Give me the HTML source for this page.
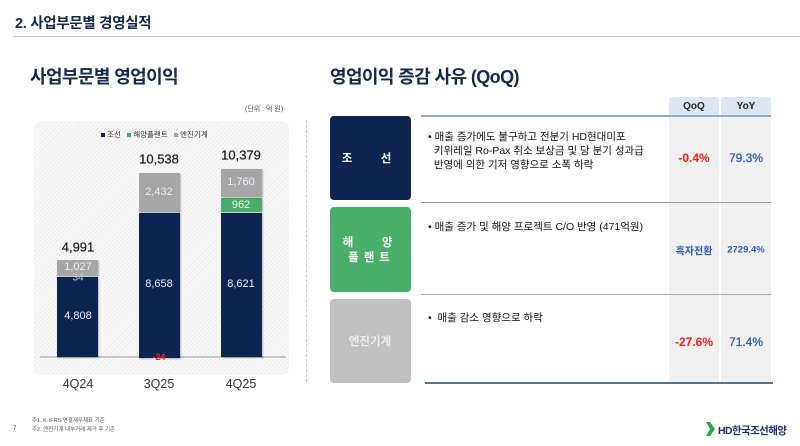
<!DOCTYPE html>
<html><head><meta charset="utf-8">
<style>
*{margin:0;padding:0;box-sizing:border-box}
body{width:800px;height:446px;background:#fff;position:relative;overflow:hidden;font-family:"Liberation Sans","Noto Sans CJK KR",sans-serif;color:#222}
.a{position:absolute;white-space:nowrap}
.t{font-weight:bold;color:#13284f}
.bar{position:absolute;box-shadow:1px 1px 1.5px rgba(0,0,0,.25)}
.nv{background:#0d2350}
.gr{background:#a6a6a6}
.gn{background:#48ad69}
.lbl{position:absolute;transform:translate(-50%,-50%);white-space:nowrap}
.in{font-size:11px;color:#eef0f4}
.tot{font-size:13px;color:#1a1a1a;-webkit-text-stroke:0.2px #1a1a1a}
.xl{font-size:12.5px;color:#333}
.box{position:absolute;left:330px;width:81px;border-radius:4px}
.bt{color:#fff;font-weight:bold;font-size:11.5px}
.desc{font-size:10.5px;color:#111;line-height:14px}
.v{font-size:12px;font-weight:bold}
.red{color:#ff1a1a}
.blu{color:#2e5aac}
</style></head><body>

<div class="a t" style="left:15px;top:12px;font-size:14.5px;letter-spacing:-0.3px">2. 사업부문별 경영실적</div>
<div class="a" style="left:14px;top:36px;width:786px;height:1px;background:#c8c8c8"></div>

<div class="a t" style="left:30px;top:63px;font-size:18px;letter-spacing:-0.6px">사업부문별 영업이익</div>
<div class="a t" style="left:330px;top:63px;font-size:18px;letter-spacing:-0.6px">영업이익 증감 사유 (QoQ)</div>

<div class="a" style="left:245px;top:104px;font-size:7px;color:#555">(단위 : 억 원)</div>

<!-- chart bg -->
<div class="a" style="left:34px;top:121px;width:255px;height:254px;border-radius:7px;background:repeating-linear-gradient(135deg,#f9f9f9 0px,#f9f9f9 2px,#ececec 2px,#ececec 3px)"></div>

<!-- legend -->
<div class="a" style="left:101px;top:129px;font-size:7.5px;color:#333">
<span style="display:inline-block;width:4px;height:4px;background:#0d2350;vertical-align:middle"></span> 조선&nbsp;&nbsp;
<span style="display:inline-block;width:4px;height:4px;background:#48ad69;vertical-align:middle"></span> 해양플랜트&nbsp;&nbsp;
<span style="display:inline-block;width:4px;height:4px;background:#a6a6a6;vertical-align:middle"></span> 엔진기계</div>

<!-- baseline -->
<div class="a" style="left:40px;top:356px;width:246px;height:2px;background:#c4c4c4"></div>

<!-- bar 1 -->
<div class="bar nv" style="left:57px;top:277px;width:41px;height:80px"></div>
<div class="bar gr" style="left:57px;top:260px;width:41px;height:16px"></div>
<!-- bar 2 -->
<div class="bar nv" style="left:139px;top:213px;width:41px;height:145px"></div>
<div class="bar gr" style="left:139px;top:173px;width:41px;height:39px"></div>
<!-- bar 3 -->
<div class="bar nv" style="left:221px;top:213px;width:41px;height:144px"></div>
<div class="bar gn" style="left:221px;top:198px;width:41px;height:14px"></div>
<div class="bar gr" style="left:221px;top:169px;width:41px;height:28px"></div>

<div class="lbl tot" style="left:78px;top:247px">4,991</div>
<div class="lbl tot" style="left:159px;top:159px">10,538</div>
<div class="lbl tot" style="left:241px;top:155px">10,379</div>

<div class="lbl in" style="left:78px;top:316px">4,808</div>
<div class="lbl in" style="left:78px;top:267px">1,027</div>
<div class="lbl in" style="left:78px;top:278px;font-size:10px;color:#c8ccd6">34</div>
<div class="lbl in" style="left:159px;top:284px">8,658</div>
<div class="lbl in" style="left:159px;top:192px">2,432</div>
<div class="lbl" style="left:159px;top:357px;font-size:9px;font-weight:bold;color:#ff2020">-24</div>
<div class="lbl in" style="left:241px;top:284px">8,621</div>
<div class="lbl in" style="left:241px;top:205px">962</div>
<div class="lbl in" style="left:241px;top:182px">1,760</div>

<div class="lbl xl" style="left:78px;top:384px">4Q24</div>
<div class="lbl xl" style="left:159px;top:384px">3Q25</div>
<div class="lbl xl" style="left:241px;top:384px">4Q25</div>

<!-- dashed separator -->
<div class="a" style="left:306px;top:120px;height:262px;border-left:1px dashed #cfcfcf"></div>

<!-- right table -->
<div class="a" style="left:669px;top:116px;width:50px;height:267px;background:#f0f0f0"></div>
<div class="a" style="left:721px;top:116px;width:50px;height:267px;background:#f0f0f0"></div>
<div class="a" style="left:669px;top:97px;width:50px;height:19px;background:#dce6f2;border-radius:3px 3px 0 0;font-size:10px;font-weight:bold;text-align:center;line-height:20px">QoQ</div>
<div class="a" style="left:721px;top:97px;width:50px;height:19px;background:#dce6f2;border-radius:3px 3px 0 0;font-size:10px;font-weight:bold;text-align:center;line-height:20px">YoY</div>
<div class="a" style="left:421px;top:115px;width:350px;height:2px;background:#8eaad6"></div>
<div class="a" style="left:421px;top:202px;width:350px;height:1px;background:#9a9a9a"></div>
<div class="a" style="left:421px;top:294px;width:350px;height:1px;background:#aaaaaa"></div>
<div class="a" style="left:425px;top:382px;width:348px;height:2px;background:#5a6f94"></div>

<div class="box" style="top:116px;height:84px;background:#0d2350"></div>
<div class="lbl bt" style="left:347px;top:158px">조</div>
<div class="lbl bt" style="left:386px;top:158px">선</div>
<div class="box" style="top:207px;height:85px;background:#4aae6b"></div>
<div class="lbl bt" style="left:348px;top:242px">해</div>
<div class="lbl bt" style="left:387px;top:242px">양</div>
<div class="lbl bt" style="left:369px;top:257px;letter-spacing:5px;padding-left:5px">플랜트</div>
<div class="box" style="top:299px;height:84px;background:#c0c0c0"></div>
<div class="lbl bt" style="left:370px;top:341px;color:#eeeeee">엔진기계</div>

<div class="a desc" style="left:428px;top:130px">• 매출 증가에도 불구하고 전분기 HD현대미포<br>&nbsp;&nbsp;키위레일 Ro-Pax 취소 보상금 및 당 분기 성과급<br>&nbsp;&nbsp;반영에 의한 기저 영향으로 소폭 하락</div>
<div class="a desc" style="left:428px;top:220px">• 매출 증가 및 해양 프로젝트 C/O 반영 (471억원)</div>
<div class="a desc" style="left:428px;top:311px">•&nbsp;&nbsp;매출 감소 영향으로 하락</div>

<div class="lbl v red" style="left:694px;top:158px">-0.4%</div>
<div class="lbl v blu" style="left:746px;top:158px;-webkit-text-stroke:0.3px #2e5aac;font-weight:normal">79.3%</div>
<div class="lbl v blu" style="left:694px;top:250px;font-size:10px">흑자전환</div>
<div class="lbl v blu" style="left:746px;top:250px;font-size:9.5px">2729.4%</div>
<div class="lbl v red" style="left:694px;top:342px">-27.6%</div>
<div class="lbl v blu" style="left:746px;top:342px;-webkit-text-stroke:0.3px #2e5aac;font-weight:normal">71.4%</div>

<!-- footer -->
<div class="a" style="left:32px;top:417px;font-size:5.5px;color:#555;line-height:9px">주1. K-IFRS 연결재무제표 기준<br>주2. 엔진기계 내부거래 제거 후 기준</div>
<div class="a" style="left:13px;top:426px;font-size:6px;color:#333">7</div>
<svg class="a" style="left:706px;top:422px" width="9" height="14"><polygon points="0,0 4,0 9,7 4,14 0,14 4,7" fill="#2aa84a"/></svg>
<div class="a" style="left:718px;top:423px;font-size:10.5px;font-weight:bold;color:#1a2f72;letter-spacing:-0.6px">HD한국조선해양</div>

</body></html>
